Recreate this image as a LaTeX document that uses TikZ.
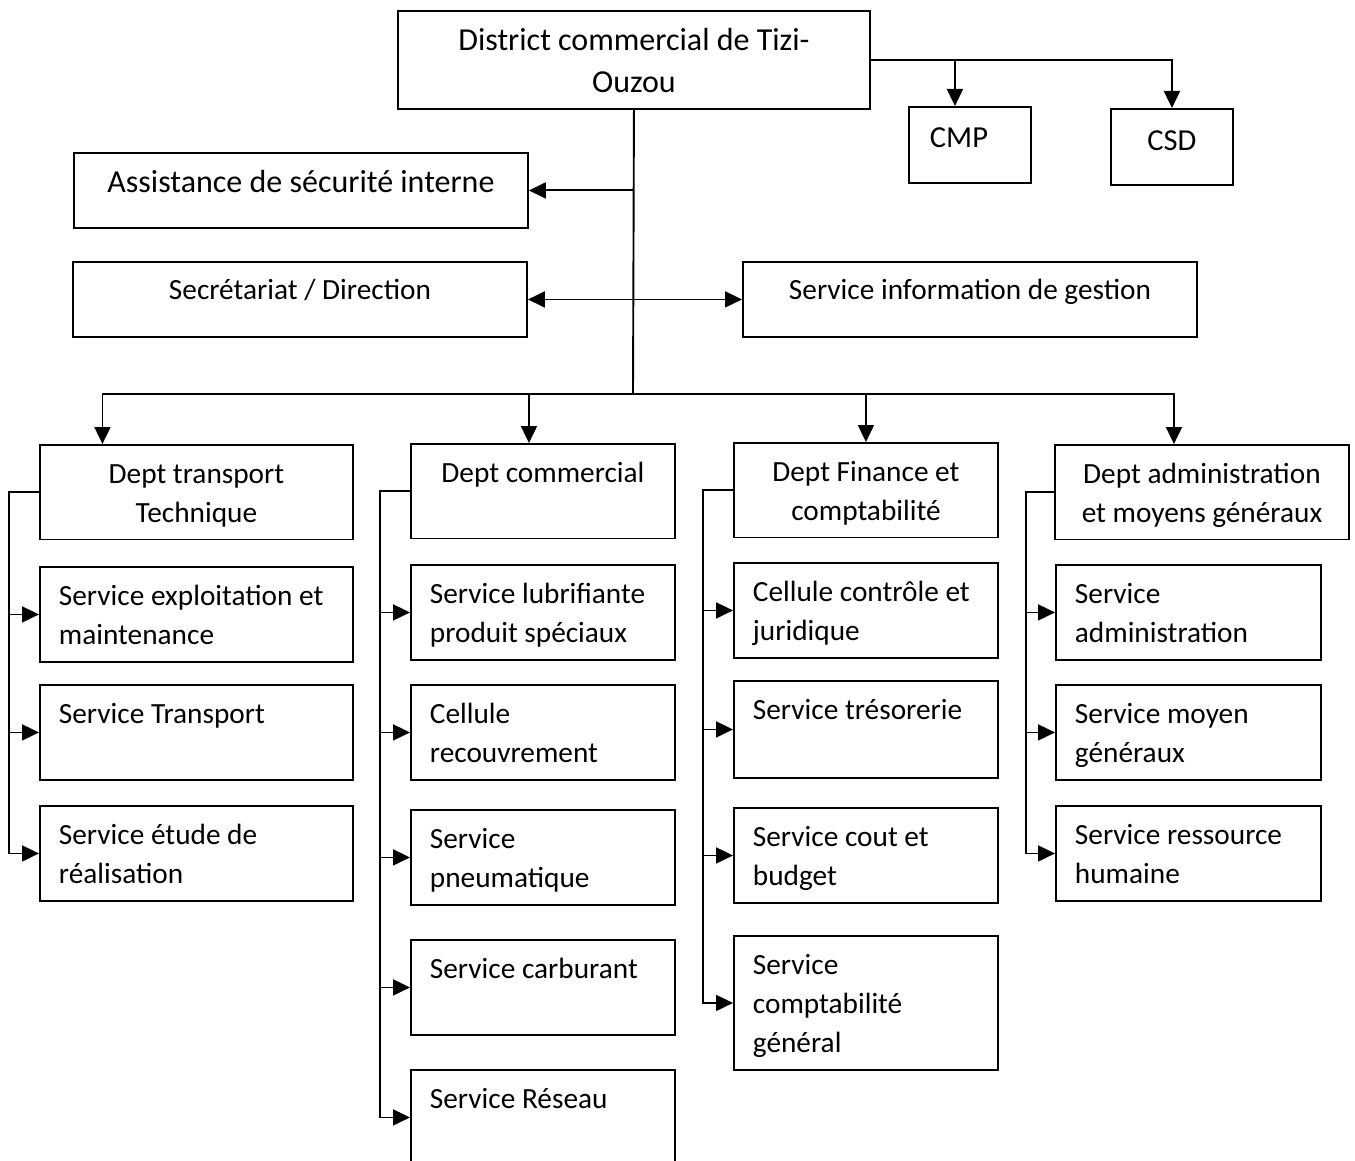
\documentclass[tikz,border=0pt]{standalone}
\usepackage{fontspec}
\setmainfont{Carlito}
\usetikzlibrary{arrows.meta}

\begin{document}
\begin{tikzpicture}[
  x=1pt, y=-1pt,
  every node/.style={
    font=\fontsize{29.3}{39}\selectfont,
    execute at begin node={\spaceskip=.226em\relax}
  },
  unit_box/.style={
    draw, line width=1.9pt, anchor=north west, inner ysep=0pt,
    inner xsep=19pt, text height=39pt, text depth=56pt
  },
  dept_box/.style={
    unit_box, align=center, text height=38.5pt, text depth=56pt
  },
  service_box/.style={
    unit_box, align=left
  },
  big_text/.style={
    font=\fontsize{32}{42}\selectfont
  },
  plain_link/.style={
    line width=1.9pt
  },
  link/.style={
    line width=1.9pt, -{Triangle[length=17pt,width=16pt]}
  },
  both_link/.style={
    line width=1.9pt, {Triangle[length=17pt,width=16pt]}-{Triangle[length=17pt,width=16pt]}
  }]
  \useasboundingbox (0,0) rectangle (1355,1161);
  %
  \node[unit_box, big_text, align=center, text width=434pt, text height=40pt, text depth=58pt] (district) at (397,10) {District commercial de Tizi-\\Ouzou};
  \node[unit_box, align=left, font=\fontsize{30.5}{40}\selectfont, inner xsep=21pt, text width=80pt, text height=41pt, text depth=35pt] (cmp) at (908,106) {CMP};
  \node[unit_box, align=center, font=\fontsize{30.5}{40}\selectfont, text width=84pt, text height=42pt, text depth=34pt] (csd) at (1110,108) {CSD};
  \node[unit_box, big_text, align=center, text width=416pt, text height=40pt, text depth=35pt] (security) at (73,152) {Assistance de sécurité interne};
  \node[unit_box, align=center, text width=416pt, text height=38pt, text depth=37pt] (secretariat) at (72,261) {Secrétariat / Direction};
  \node[unit_box, align=center, text width=416pt, text height=38pt, text depth=37pt] (info) at (742,261) {Service information de gestion};
  %
  \draw[link] (district.east) -| (csd.north);
  \draw[link] ([xshift=-15pt]cmp.north |- district.east) -- ([xshift=-15pt]cmp.north);
  \coordinate (bus) at (633,394);
  \draw[plain_link] (district.south) -- (bus);
  \draw[link] (security.east -| district.south) -- (security.east);
  \draw[both_link] (secretariat.east) -- (info.west);
  %
  \node[dept_box, text width=275pt] (dept_1) at (39,444) {Dept transport\\Technique};
  \node[dept_box, text width=226pt] (dept_2) at (410,443) {Dept commercial};
  \node[dept_box, text width=226pt] (dept_3) at (733,442) {Dept Finance et\\comptabilité};
  \node[dept_box, text width=256pt] (dept_4) at (1054,444) {Dept administration\\et moyens généraux};
  \draw[link] (bus) -| ([xshift=-94pt]dept_1.north);
  \draw[link] (bus) -| ([xshift=-14pt]dept_2.north);
  \draw[link] (bus) -| (dept_3.north);
  \draw[link] (bus) -| ([xshift=-28pt]dept_4.north);
  %
  \foreach \y/\txt [count=\i] in {566/{Service exploitation et\\maintenance}, 684/{Service Transport}, 805/{Service étude de\\réalisation}} {
    \node[service_box, text width=275pt] (svc_1_\i) at (39,\y) {\txt};
    \draw[link] (dept_1.west) -- ++(-30,0) |- (svc_1_\i.west);
  }
  \foreach \y/\txt [count=\i] in {564/{Service lubrifiante\\produit spéciaux}, 684/{Cellule\\recouvrement}, 809/{Service\\pneumatique}, 939/{Service carburant}, 1069/{Service Réseau}} {
    \node[service_box, text width=226pt] (svc_2_\i) at (410,\y) {\txt};
    \draw[link] (dept_2.west) -- ++(-30,0) |- (svc_2_\i.west);
  }
  \foreach \y/\d/\txt [count=\i] in {562/56/{Cellule contrôle et\\juridique}, 680/58/{Service trésorerie}, 807/56/{Service cout et\\budget}, 935/95/{Service\\comptabilité\\général}} {
    \node[service_box, text width=226pt, text depth=\d pt] (svc_3_\i) at (733,\y) {\txt};
    \draw[link] (dept_3.west) -- ++(-30,0) |- (svc_3_\i.west);
  }
  \foreach \y/\txt [count=\i] in {564/{Service\\administration}, 684/{Service moyen\\généraux}, 805/{Service ressource\\humaine}} {
    \node[service_box, text width=227pt] (svc_4_\i) at (1055,\y) {\txt};
    \draw[link] (dept_4.west) -- ++(-28,0) |- (svc_4_\i.west);
  }
\end{tikzpicture}
\end{document}
